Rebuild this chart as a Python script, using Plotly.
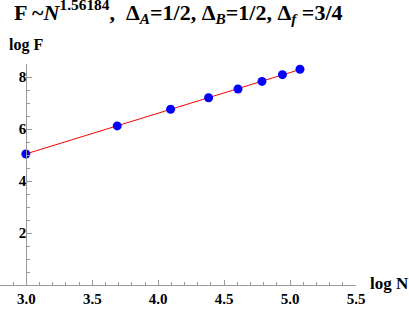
import numpy as np
import plotly.graph_objects as go

log_N = [2.996, 3.689, 4.094, 4.382, 4.605, 4.787, 4.942, 5.075]
log_F = [5.04, 6.12, 6.76, 7.20, 7.54, 7.83, 8.09, 8.30]
slope = 1.56184

x_ticks = [3.0, 3.5, 4.0, 4.5, 5.0, 5.5]
x_tick_labels = ["3.0", "3.5", "4.0", "4.5", "5.0", "5.5"]
y_ticks = [2, 4, 6, 8]
y_tick_labels = ["2", "4", "6", "8"]

xa = np.array(log_N)
ya = np.array(log_F)
intercept = float(np.mean(ya - slope * xa))
x_line = [xa.min(), xa.max()]
y_line = [intercept + slope * v for v in x_line]

XR = [2.8, 5.5]
YR = [0, 8.5]
AX = "#999999"
FONT = "Liberation Serif"

fig = go.Figure()
fig.add_trace(go.Scatter(x=x_line, y=y_line, mode="lines",
                         line=dict(color="#ff0000", width=1), showlegend=False))
fig.add_trace(go.Scatter(x=log_N, y=log_F, mode="markers",
                         marker=dict(color="#0000ff", size=9), showlegend=False))

ypos = (3.0 - XR[0]) / (XR[1] - XR[0])

title_text = ("<b>F ~<i>N</i><sup>1.56184</sup>,  Δ<sub><i>A</i></sub>=1/2, "
              "Δ<sub><i>B</i></sub>=1/2, Δ<sub><i>f</i></sub> =3/4</b>")

fig.update_layout(
    width=409, height=310,
    margin=dict(l=0, r=53, t=64, b=25),
    plot_bgcolor="white", paper_bgcolor="white",
    font=dict(family=FONT, color="black"),
    xaxis=dict(range=XR, tickvals=x_ticks, ticktext=["<b>%s</b>" % t for t in x_tick_labels],
               showgrid=False, zeroline=False, showline=True, linecolor=AX, linewidth=1,
               ticks="inside", ticklen=5, tickcolor=AX, tickfont=dict(size=15, family=FONT),
               minor=dict(dtick=0.1, ticks="inside", ticklen=3, tickcolor=AX, showgrid=False),
               automargin=False, fixedrange=True),
    yaxis=dict(range=YR, tickvals=y_ticks, ticktext=["<b>%s</b>" % t for t in y_tick_labels],
               anchor="free", position=ypos, ticklabelstandoff=-3,
               showgrid=False, zeroline=False, showline=True, linecolor=AX, linewidth=1,
               ticks="inside", ticklen=5, tickcolor=AX, tickfont=dict(size=15, family=FONT),
               minor=dict(dtick=0.5, ticks="inside", ticklen=3, tickcolor=AX, showgrid=False),
               automargin=False, fixedrange=True),
    title=dict(
        text=title_text,
        x=14/409, xref="container", xanchor="left",
        y=1 - 12/310, yref="container", yanchor="middle",
        font=dict(size=22, family=FONT, color="black")),
    annotations=[
        dict(text="<b>log F</b>", xref="paper", yref="paper", x=7/356, y=1 + 19/221,
             xanchor="left", yanchor="middle", showarrow=False, font=dict(size=16, family=FONT)),
        dict(text="<b>log N</b>", xref="paper", yref="paper", x=1 + 12/356, y=2/221,
             xanchor="left", yanchor="middle", showarrow=False, font=dict(size=17, family=FONT)),
    ],
)

fig.write_html("out.html", config={"displayModeBar": False},
               post_script="document.body.style.margin='0';")
